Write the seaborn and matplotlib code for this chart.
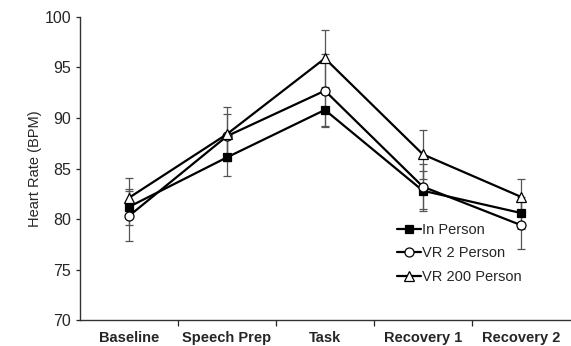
import matplotlib
matplotlib.use("Agg")
import matplotlib.pyplot as plt
import seaborn as sns
import pandas as pd
from matplotlib.ticker import FixedLocator

categories = ["Baseline", "Speech Prep", "Task", "Recovery 1", "Recovery 2"]
series_names = ["In Person", "VR 2 Person", "VR 200 Person"]
in_person = [81.2, 86.1, 90.8, 82.8, 80.6]
vr2 = [80.3, 88.2, 92.7, 83.2, 79.4]
vr200 = [82.1, 88.4, 95.9, 86.4, 82.2]
in_person_err = [1.8, 1.8, 1.6, 2.0, 1.6]
vr2_err = [2.5, 2.2, 3.6, 2.2, 2.4]
vr200_err = [2.0, 2.7, 2.8, 2.4, 1.8]

sns.set_style("ticks")
plt.rcParams["font.family"] = ["Liberation Sans", "DejaVu Sans"]

fig = plt.figure(figsize=(5.71, 3.46), dpi=100)
ax = fig.add_axes([0.140, 0.075, 0.858, 0.876])

values = [in_person, vr2, vr200]
errs = [in_person_err, vr2_err, vr200_err]
markers = ["s", "o", "^"]
faces = ["black", "white", "white"]
sizes = [6, 6.5, 7.5]

rows = []
for name, vals in zip(series_names, values):
    for i, v in enumerate(vals):
        rows.append({"pos": i, "value": v, "series": name})
df = pd.DataFrame(rows)

for vals, e in zip(values, errs):
    ax.errorbar(range(len(categories)), vals, yerr=e, fmt="none",
                ecolor="#555555", elinewidth=0.9, capsize=3, capthick=0.9, zorder=1)

for name, m, fc, ms in zip(series_names, markers, faces, sizes):
    sub = df[df["series"] == name]
    sns.lineplot(data=sub, x="pos", y="value", ax=ax, color="black", linewidth=1.6,
                 marker=m, markersize=ms, markerfacecolor=fc, markeredgecolor="black",
                 markeredgewidth=0.9, label=name, zorder=3)

ax.set_xlim(-0.5, 4.5)
ax.set_ylim(70, 100)
ax.set_yticks(range(70, 101, 5))
ax.set_xticks(range(len(categories)))
ax.set_xticklabels(categories, fontweight="bold", fontsize=10.5)
ax.xaxis.set_minor_locator(FixedLocator([0.5, 1.5, 2.5, 3.5]))
ax.tick_params(axis="x", which="major", length=0, pad=8)
ax.tick_params(axis="x", which="minor", length=4, width=0.9, direction="out")
ax.tick_params(axis="y", length=3, width=0.9, labelsize=11.5, direction="out")
ax.set_xlabel("")
ax.set_ylabel("Heart Rate (BPM)", fontsize=10.5, labelpad=2)
for s in ["top", "right"]:
    ax.spines[s].set_visible(False)
for s in ["left", "bottom"]:
    ax.spines[s].set_linewidth(1.0)
    ax.spines[s].set_color("#333333")

leg = ax.legend(loc="upper left", bbox_to_anchor=(0.636, 0.34), frameon=False,
                fontsize=10.5, handlelength=1.6, handletextpad=0.1,
                labelspacing=0.65, borderaxespad=0)

fig.savefig("out.png", dpi=100, facecolor="white")
